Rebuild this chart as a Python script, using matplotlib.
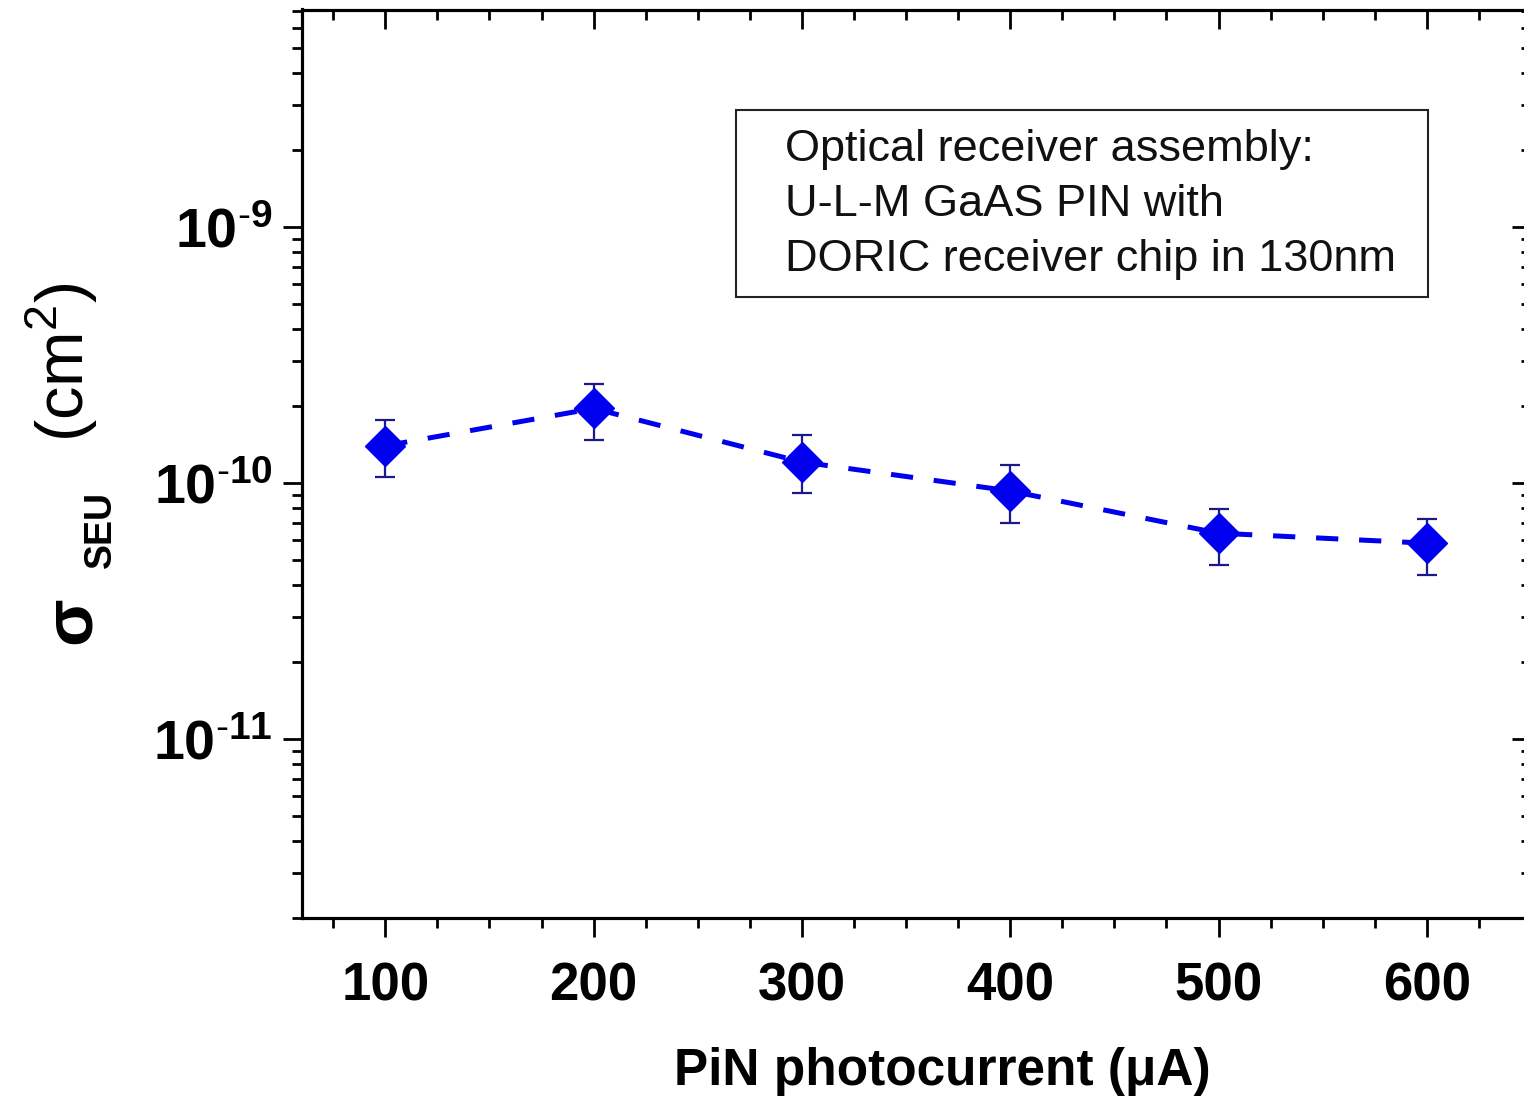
import math
import matplotlib
matplotlib.use("Agg")
import matplotlib.pyplot as plt
from matplotlib.ticker import LogLocator, MultipleLocator, NullFormatter, FuncFormatter

plt.rcParams['font.family'] = ['Liberation Sans', 'DejaVu Sans']
plt.rcParams['mathtext.fontset'] = 'custom'
plt.rcParams['mathtext.rm'] = 'Liberation Sans'
plt.rcParams['mathtext.bf'] = 'Liberation Sans:bold'
plt.rcParams['lines.scale_dashes'] = False
plt.rcParams['axes.unicode_minus'] = False

# data
current_uA = [100, 200, 300, 400, 500, 600]
sigma_seu = [1.40e-10, 1.96e-10, 1.21e-10, 9.33e-11, 6.38e-11, 5.83e-11]
err_upper = [1.77e-10, 2.45e-10, 1.54e-10, 1.18e-10, 7.96e-11, 7.23e-11]
err_lower = [1.06e-10, 1.48e-10, 9.12e-11, 6.98e-11, 4.81e-11, 4.37e-11]
x_ticks = [100, 200, 300, 400, 500, 600]
y_ticks = [1e-11, 1e-10, 1e-9]
legend_lines = ["Optical receiver assembly:",
                "U-L-M GaAS PIN with",
                "DORIC receiver chip in 130nm"]

W, H = 1524, 1098
fig = plt.figure(figsize=(W / 100, H / 100), dpi=100)
L, R, T, B = 302, 1531, 9.5, 918
ax = fig.add_axes([L / W, (H - B) / H, (R - L) / W, (B - T) / H])

blue = '#0000ee'
yerr = [[s - lo for s, lo in zip(sigma_seu, err_lower)],
        [hi - s for s, hi in zip(sigma_seu, err_upper)]]
ax.errorbar(current_uA, sigma_seu, yerr=yerr, fmt='none', ecolor='#1a1a8c',
            elinewidth=1.6, capsize=7, capthick=1.6, zorder=2)
ax.plot(current_uA, sigma_seu, color=blue, lw=3.6, dashes=(16, 15), zorder=3)
ax.plot(current_uA, sigma_seu, 'D', ms=20, color=blue, mec=blue, zorder=4)

ax.set_yscale('log')
ax.set_xlim(60, 650)
ax.set_ylim(2e-12, 7.1e-9)


def pow10_label(v, pos):
    e = int(round(math.log10(v)))
    return r"$\mathbf{10^{\text{-}%d}}$" % (-e)


ax.set_xticks(x_ticks)
ax.xaxis.set_minor_locator(MultipleLocator(25))
ax.set_yticks(y_ticks)
ax.yaxis.set_major_formatter(FuncFormatter(pow10_label))
ax.yaxis.set_minor_locator(LogLocator(base=10, subs=range(2, 10)))
ax.yaxis.set_minor_formatter(NullFormatter())

for s in ax.spines.values():
    s.set_linewidth(2.2)

ax.tick_params(which='major', direction='out', length=14, width=2.0,
               labelsize=38, pad=17, top=False, right=False)
ax.tick_params(which='minor', direction='out', length=7.5, width=2.0, top=False, right=False)
ax.tick_params(axis='y', which='major', pad=7, labelsize=40)
for lab in ax.get_xticklabels() + ax.get_yticklabels():
    lab.set_fontweight('bold')

# inward ticks on top and right
axr = ax.twinx()
axr.set_yscale('log')
axr.set_ylim(ax.get_ylim())
axr.set_yticks(y_ticks)
axr.yaxis.set_minor_locator(LogLocator(base=10, subs=range(2, 10)))
axr.yaxis.set_minor_formatter(NullFormatter())
axr.tick_params(which='major', direction='in', length=14, width=2.0, labelright=False)
axr.tick_params(which='minor', direction='in', length=7.5, width=2.0)
axt = ax.twiny()
axt.set_xlim(ax.get_xlim())
axt.set_xticks(x_ticks)
axt.xaxis.set_minor_locator(MultipleLocator(25))
axt.tick_params(which='major', direction='in', length=14, width=2.0, labeltop=False)
axt.tick_params(which='minor', direction='in', length=7.5, width=2.0)
for a in (axr, axt):
    for s in a.spines.values():
        s.set_linewidth(2.2)

# x label
fig.text(942 / W, 1 - 1072 / H, u"PiN photocurrent (\u03bcA)", fontsize=37,
         fontweight='bold', ha='center', va='center')

# y label pieces
fig.text(72 / W, 1 - 620 / H, u"\u03c3", fontsize=50, fontweight='bold',
         rotation=90, ha='center', va='center')
fig.text(101 / W, 1 - 530 / H, "SEU", fontsize=27, fontweight='bold',
         rotation=90, ha='center', va='center')
fig.text(62 / W, 1 - 362 / H, r"(cm$^{2}$)", fontsize=48,
         rotation=90, ha='center', va='center')

# annotation box
rect = plt.Rectangle((736 / W, 1 - 297 / H), (1428 - 736) / W, (297 - 110) / H,
                     transform=fig.transFigure, fill=False, lw=1.5,
                     edgecolor='#222222', zorder=5)
fig.add_artist(rect)
for i, line in enumerate(legend_lines):
    fig.text(785 / W, 1 - (161 + 55 * i) / H, line, fontsize=32.5,
             ha='left', va='baseline', color='#111111')

fig.savefig("out.png", dpi=100)
